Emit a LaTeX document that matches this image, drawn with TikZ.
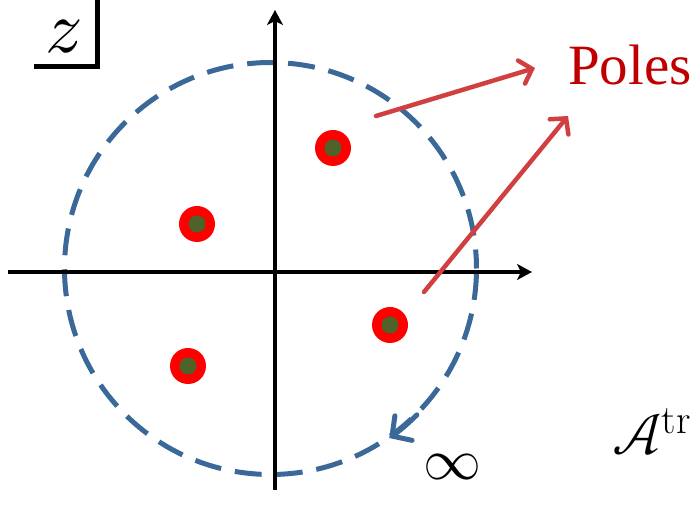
\documentclass[tikz,border=0pt]{standalone}
\usepackage{fontspec}
\usepackage{unicode-math}
\newfontfamily\polesfont{Liberation Serif}
\usepackage{tikz}
\usetikzlibrary{arrows.meta,positioning,calc}
\definecolor{ringblue}{HTML}{3A6898}
\definecolor{polered}{HTML}{FF0000}
\definecolor{polecore}{HTML}{4F6228}
\definecolor{labelred}{HTML}{C00000}
\definecolor{pointer}{HTML}{D04040}

\begin{document}
\begin{tikzpicture}[x=1pt,y=1pt,
  axis/.style={line width=3.2pt,-{Stealth[length=15pt,width=16pt,inset=4pt]}},
  ring/.style={line width=5pt,color=ringblue,dash pattern=on 27pt off 14pt},
  pole/.style={circle,fill=polered,minimum size=36pt,inner sep=0pt},
  core/.style={circle,fill=polecore,minimum size=17pt,inner sep=0pt},
  pointto/.style={line width=4.5pt,color=pointer,line cap=round,
                  -{Straight Barb[length=11pt,width=24pt,line cap=round]}}]
  \useasboundingbox (0,0) rectangle (697,-518);
  % contour at infinity
  \coordinate (o) at (270.5,-268.5);
  \draw[ring,dash phase=8pt] (o) circle[radius=206];
  \draw[line width=5pt,color=ringblue,line cap=round,
        -{Straight Barb[length=14pt,width=30pt,line cap=round]}]
       ($(o)+(-45:207)$) arc[start angle=-45,end angle=-55,radius=207];
  % axes
  \draw[axis] (8,-272) -- (532,-272);
  \draw[axis] (275,-490) -- (275,-10);
  % poles
  \foreach \n/\p in {p1/{(333,-148)},p2/{(197,-224)},p3/{(390,-325)},p4/{(188,-366)}}{
    \node[pole] (\n) at \p {};
    \node[core] at \p {};
  }
  % labels
  \node[anchor=base west,inner sep=0pt,font=\fontsize{74}{74}\selectfont] (zl) at (45,-53) {$z$};
  \draw[line width=5pt] (34,-66.5) -- (99.5,-66.5) (97,-69) -- (97,0);
  \node[anchor=base west,inner sep=0pt,text=labelred,font=\polesfont\fontsize{57}{60}\selectfont]
       (poles) at (568,-85) {Poles};
  \node[anchor=base west,inner sep=0pt,font=\fontsize{58}{60}\selectfont] (atr) at (612,-455)
       {$\mathcal{A}^{\mathrm{tr}}$};
  \node[anchor=base,inner sep=0pt,font=\fontsize{58}{60}\selectfont] (inf) at (452,-480) {$\infty$};
  % pointers to the label
  \coordinate (a1) at (376,-116);
  \coordinate (b1) at (535,-68);
  \coordinate (a2) at (424,-292);
  \coordinate (b2) at (568,-116);
  \draw[pointto] (a1) -- (b1);
  \draw[pointto] (a2) -- (b2);
\end{tikzpicture}
\end{document}
